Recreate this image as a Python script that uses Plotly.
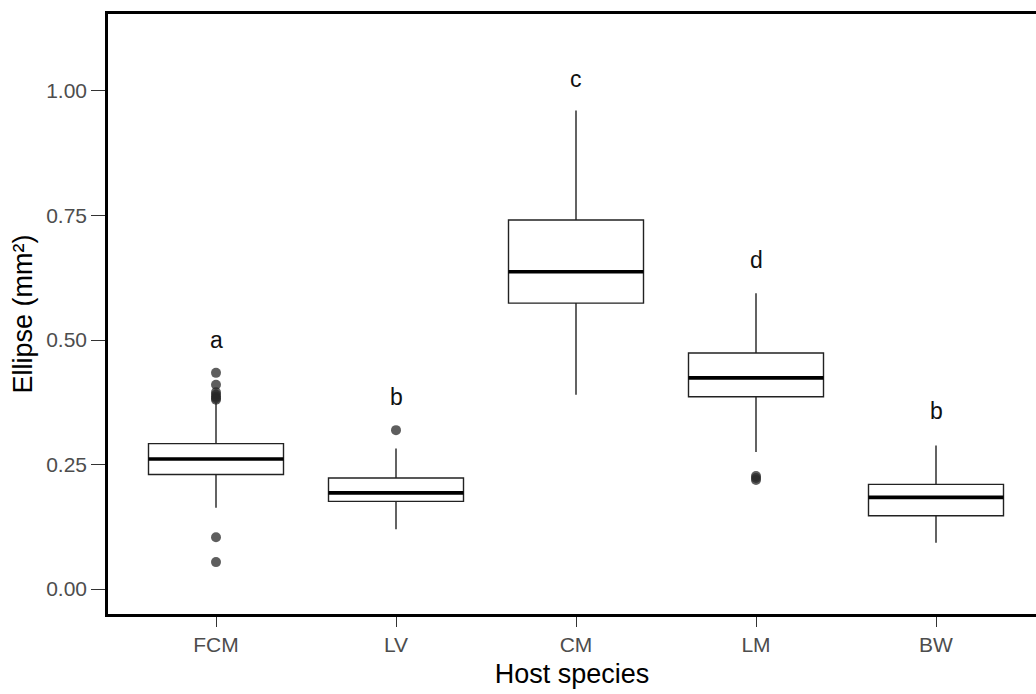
import plotly.graph_objects as go

categories = ["FCM", "LV", "CM", "LM", "BW"]
q1 = [0.230, 0.176, 0.574, 0.386, 0.147]
median = [0.261, 0.193, 0.637, 0.424, 0.184]
q3 = [0.292, 0.223, 0.741, 0.474, 0.210]
lower_whisker = [0.163, 0.120, 0.390, 0.275, 0.093]
upper_whisker = [0.374, 0.282, 0.961, 0.594, 0.288]
outliers = [
    [0.434, 0.410, 0.395, 0.390, 0.386, 0.383, 0.380, 0.104, 0.054],
    [0.319],
    [],
    [0.227, 0.223, 0.219],
    [],
]
letters = ["a", "b", "c", "d", "b"]
letter_y = [0.500, 0.386, 1.024, 0.661, 0.357]

xs = list(range(len(categories)))
box_w = 0.75

fig = go.Figure()
fig.add_trace(go.Box(
    x=xs, q1=q1, median=median, q3=q3,
    lowerfence=lower_whisker, upperfence=upper_whisker,
    width=box_w, whiskerwidth=0,
    fillcolor="white", line=dict(color="#222222", width=1.4),
    boxpoints=False, showlegend=False, hoverinfo="skip",
))

# thick median lines
mx, my = [], []
for i, m in zip(xs, median):
    mx += [i - box_w / 2, i + box_w / 2, None]
    my += [m, m, None]
fig.add_trace(go.Scatter(x=mx, y=my, mode="lines",
                         line=dict(color="black", width=3.6),
                         showlegend=False, hoverinfo="skip"))

# outliers
ox, oy = [], []
for i, vals in zip(xs, outliers):
    ox += [i] * len(vals)
    oy += vals
fig.add_trace(go.Scatter(x=ox, y=oy, mode="markers",
                         marker=dict(color="rgba(40,40,40,0.75)", size=10, line=dict(width=0)),
                         showlegend=False, hoverinfo="skip"))

for i, t, yv in zip(xs, letters, letter_y):
    fig.add_annotation(x=i, y=yv, text=t, showarrow=False,
                       font=dict(family="Liberation Sans", size=23, color="#111111"))

W, H = 1036, 694
left, top, bottom = 108, 14, 80
px_per_cat = 180.0
x0 = -0.6
x1 = x0 + (W - left) / px_per_cat

fig.update_layout(
    width=W, height=H,
    margin=dict(l=left, r=0, t=top, b=bottom),
    paper_bgcolor="white", plot_bgcolor="white",
    font=dict(family="Liberation Sans"),
    xaxis=dict(
        range=[x0, x1], tickmode="array", tickvals=xs, ticktext=categories,
        showgrid=False, zeroline=False,
        showline=True, linecolor="black", linewidth=2.5, mirror=True,
        ticks="outside", ticklen=10, tickwidth=1.3, tickcolor="#333333",
        tickfont=dict(size=21, color="#4d4d4d"),
        title=dict(text="Host species", font=dict(size=27, color="black"), standoff=10),
    ),
    yaxis=dict(
        range=[-0.0502, 1.1546], tickmode="array",
        tickvals=[0, 0.25, 0.5, 0.75, 1.0],
        ticktext=["0.00", "0.25", "0.50", "0.75", "1.00"],
        showgrid=False, zeroline=False,
        showline=True, linecolor="black", linewidth=2.5,
        ticks="outside", ticklen=14, tickwidth=1.3, tickcolor="#333333",
        tickfont=dict(size=21, color="#4d4d4d"),
        title=dict(text="Ellipse (mm²)", font=dict(size=27, color="black"), standoff=6),
    ),
)

fig.write_html("out.html", config={"displayModeBar": False},
               post_script="document.body.style.margin='0';document.body.style.padding='0';")
